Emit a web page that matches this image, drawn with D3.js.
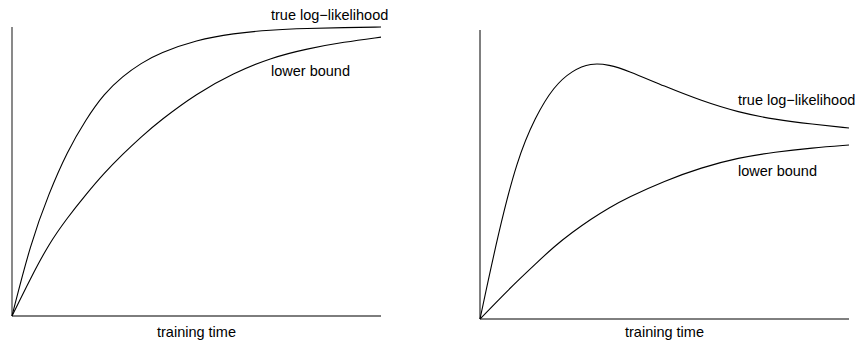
<!DOCTYPE html>
<html>
<head>
<meta charset="utf-8">
<script src="https://cdn.jsdelivr.net/npm/d3@7"></script>
<style>
   body { margin: 0; background: #fff; }
   text { font-family: "Liberation Sans", Arial, Helvetica, sans-serif; font-size: 14.5px; fill: #000; }
</style>
</head>
<body>
<div id="chart"></div>
<script>
// training time, in % of the x axis
var time = [0, 5, 10, 15, 20, 25, 30, 35, 40, 50, 60, 70, 80, 90, 100];

// left panel: bound tightens as training goes on
var leftTrue  = [0, 0.25, 0.425, 0.57, 0.68, 0.77, 0.83, 0.875, 0.91, 0.955, 0.978, 0.99, 0.995, 0.998, 1.0];
var leftLower = [0, 0.13, 0.25, 0.34, 0.42, 0.495, 0.56, 0.62, 0.675, 0.77, 0.84, 0.893, 0.925, 0.948, 0.965];

// right panel: true log-likelihood peaks then drops
var rightTrue  = [0, 0.30, 0.55, 0.70, 0.805, 0.86, 0.886, 0.88, 0.86, 0.805, 0.755, 0.715, 0.69, 0.674, 0.661];
var rightLower = [0, 0.066, 0.13, 0.19, 0.25, 0.30, 0.345, 0.385, 0.42, 0.478, 0.524, 0.558, 0.578, 0.592, 0.602];

var labels = ["true log\u2212likelihood", "lower bound"];
var xTitle = "training time";

var svgWidth = 860;
var svgHeight = 341;

var svg = d3.select("#chart")
   .append("svg")
   .attr("width", svgWidth)
   .attr("height", svgHeight);

// one panel of the figure
function drawPanel(opts) {
   var xScale = d3.scaleLinear().domain([0, 100]).range([opts.left, opts.right]);
   var yScale = d3.scaleLinear().domain([0, 1]).range([opts.bottom, opts.top]);

   var g = svg.append("g");

   // axes (just the two lines, no ticks)
   g.append("line")
      .attr("x1", xScale(0)).attr("x2", xScale(0))
      .attr("y1", yScale(0)).attr("y2", yScale(1))
      .attr("stroke", opts.axisColor)
      .attr("stroke-width", opts.axisWidth);
   g.append("line")
      .attr("x1", xScale(0)).attr("x2", xScale(100))
      .attr("y1", yScale(0)).attr("y2", yScale(0))
      .attr("stroke", opts.axisColor)
      .attr("stroke-width", opts.axisWidth);

   var line = d3.line()
      .x((d, i) => xScale(time[i]))
      .y(d => yScale(d))
      .curve(d3.curveBasis);

   [opts.trueVals, opts.lowerVals].forEach(function (vals) {
      g.append("path")
         .datum(vals)
         .attr("d", line)
         .attr("fill", "none")
         .attr("stroke", "#000")
         .attr("stroke-width", 1.1);
   });

   g.append("text")
      .attr("x", opts.labelX)
      .attr("y", opts.trueLabelY)
      .text(labels[0]);
   g.append("text")
      .attr("x", opts.labelX)
      .attr("y", opts.lowerLabelY)
      .text(labels[1]);

   g.append("text")
      .attr("x", (xScale(0) + xScale(100)) / 2)
      .attr("y", 337)
      .attr("text-anchor", "middle")
      .text(xTitle);
}

drawPanel({
   left: 12, right: 381, top: 27, bottom: 316,
   axisColor: "#7d7d7d", axisWidth: 1.8,
   trueVals: leftTrue, lowerVals: leftLower,
   labelX: 271, trueLabelY: 20, lowerLabelY: 76
});

drawPanel({
   left: 480, right: 849, top: 30, bottom: 319,
   axisColor: "#000", axisWidth: 1,
   trueVals: rightTrue, lowerVals: rightLower,
   labelX: 738, trueLabelY: 105, lowerLabelY: 176
});
</script>
</body>
</html>
